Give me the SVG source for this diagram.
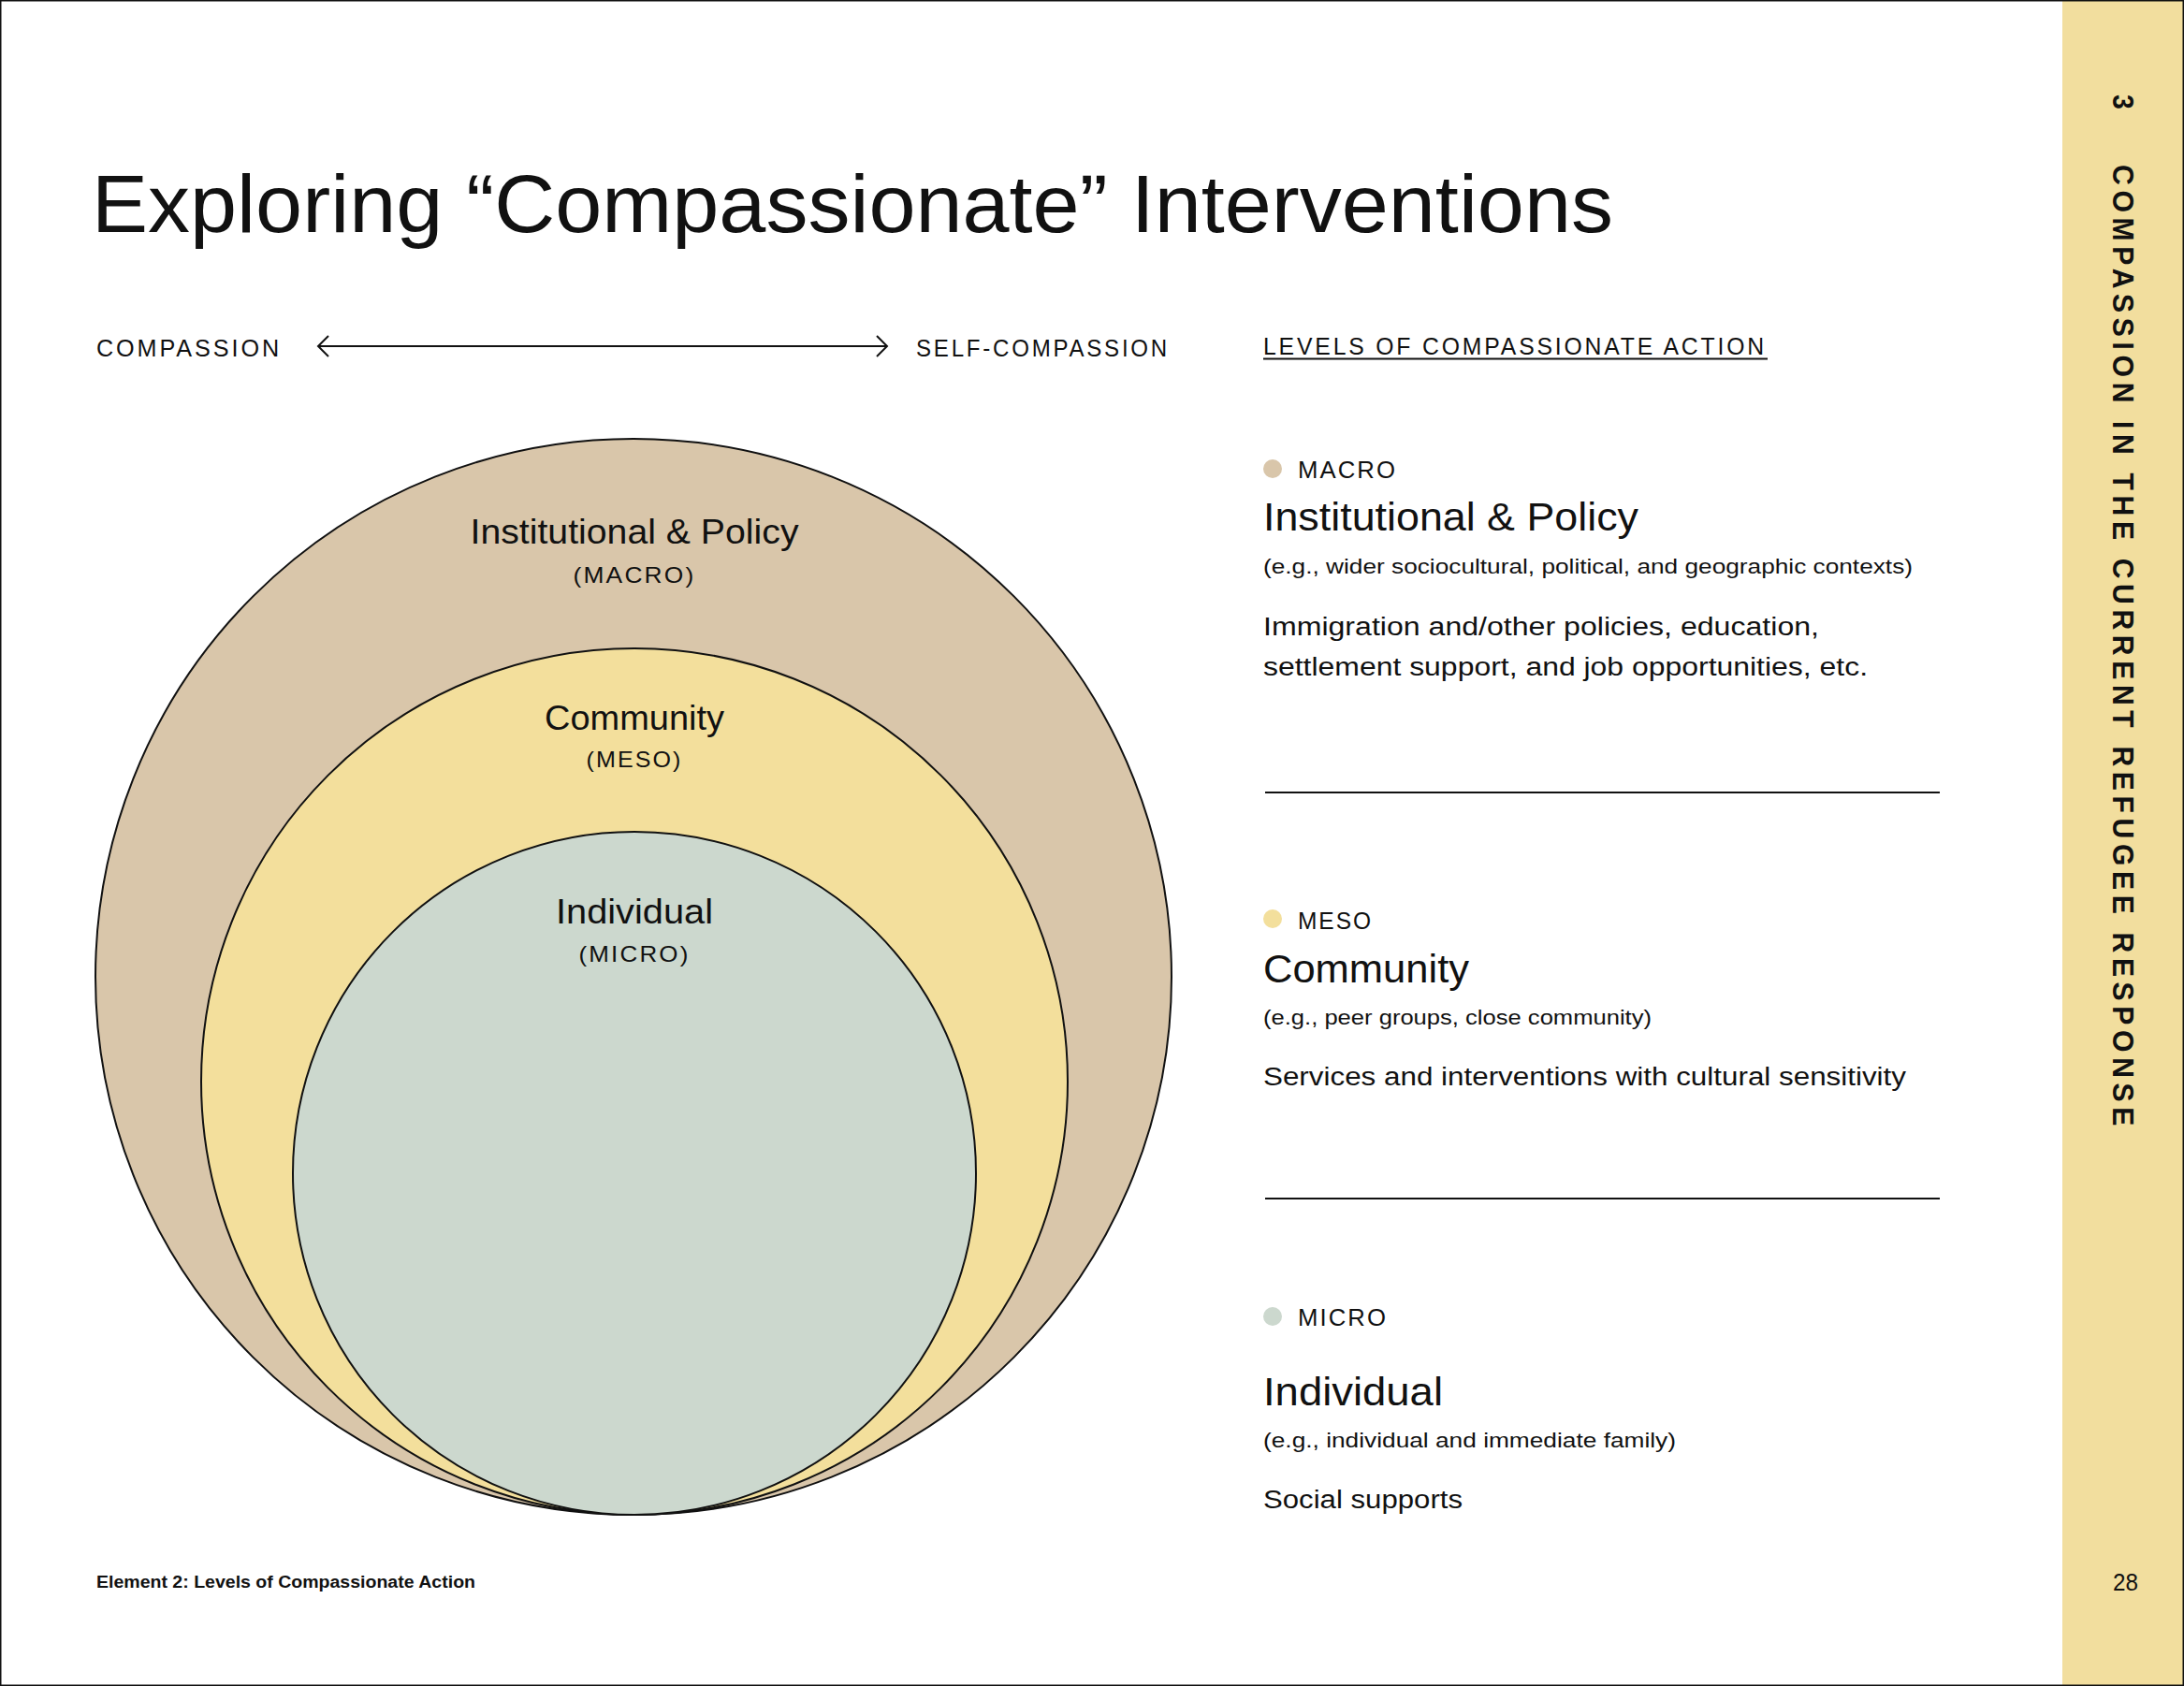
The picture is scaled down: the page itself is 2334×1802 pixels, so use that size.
<svg xmlns="http://www.w3.org/2000/svg" width="2334" height="1802" viewBox="0 0 2334 1802">
<style>
text{font-family:"Liberation Sans",Arial,sans-serif;fill:#111;}
.title{font-size:88px;}
.cap{font-size:26px;letter-spacing:3px;}
.lvl{font-size:25px;letter-spacing:2px;}
.head{font-size:42px;}
.eg{font-size:22px;}
.body{font-size:27px;}
.clabel{font-size:36px;text-anchor:middle;}
.csub{font-size:24px;letter-spacing:2px;text-anchor:middle;}
.ring{stroke:#111;stroke-width:2;}
.rule{stroke:#111;stroke-width:2;}
.side{font-size:32px;font-weight:bold;letter-spacing:6px;}
</style>
<rect x="0" y="0" width="2334" height="1802" fill="#ffffff"/>
<rect id="sidebar" x="2204" y="0" width="130" height="1802" fill="#F2DE9E"/>
<rect x="0.75" y="0.75" width="2332.5" height="1800.5" fill="none" stroke="#111" stroke-width="1.5"/>

<text class="title" x="98" y="248" textLength="1626" lengthAdjust="spacingAndGlyphs">Exploring “Compassionate” Interventions</text>

<g id="axis-labels">
<text class="cap" x="103" y="381" textLength="198" lengthAdjust="spacingAndGlyphs">COMPASSION</text>
<text class="cap" x="979" y="381" textLength="271" lengthAdjust="spacingAndGlyphs">SELF-COMPASSION</text>
</g>

<g id="connectors" fill="none" stroke="#111" stroke-width="2">
<line x1="341" y1="370" x2="948" y2="370"/>
<polyline points="351,359 340,370 351,381"/>
<polyline points="937,359 948,370 937,381"/>
</g>

<g id="circles">
<g id="macro-circle">
<circle class="ring" cx="677" cy="1044" r="575" fill="#D9C6AA"/>
<text class="clabel" x="678" y="581" textLength="351" lengthAdjust="spacingAndGlyphs">Institutional &amp; Policy</text>
<text class="csub" x="678" y="623" textLength="131" lengthAdjust="spacingAndGlyphs">(MACRO)</text>
</g>
<g id="meso-circle">
<circle class="ring" cx="678" cy="1156" r="463" fill="#F3DF9C"/>
<text class="clabel" x="678" y="780" textLength="192" lengthAdjust="spacingAndGlyphs">Community</text>
<text class="csub" x="678" y="820" textLength="103" lengthAdjust="spacingAndGlyphs">(MESO)</text>
</g>
<g id="micro-circle">
<circle class="ring" cx="678" cy="1254" r="365" fill="#CCD8CE"/>
<text class="clabel" x="678" y="987" textLength="168" lengthAdjust="spacingAndGlyphs">Individual</text>
<text class="csub" x="678" y="1028" textLength="119" lengthAdjust="spacingAndGlyphs">(MICRO)</text>
</g>
</g>

<g id="legend-title">
<text class="cap" x="1350" y="379" textLength="538" lengthAdjust="spacingAndGlyphs">LEVELS OF COMPASSIONATE ACTION</text>
<line class="rule" x1="1350" y1="383.5" x2="1889" y2="383.5"/>
</g>

<g id="legend-macro">
<circle cx="1360" cy="501" r="10" fill="#D9C6AA"/>
<text class="lvl" x="1387" y="511" textLength="106" lengthAdjust="spacingAndGlyphs">MACRO</text>
<text class="head" x="1350" y="567" textLength="401" lengthAdjust="spacingAndGlyphs">Institutional &amp; Policy</text>
<text class="eg" x="1350" y="613" textLength="694" lengthAdjust="spacingAndGlyphs">(e.g., wider sociocultural, political, and geographic contexts)</text>
<text class="body" x="1350" y="679" textLength="594" lengthAdjust="spacingAndGlyphs">Immigration and/other policies, education,</text>
<text class="body" x="1350" y="722" textLength="646" lengthAdjust="spacingAndGlyphs">settlement support, and job opportunities, etc.</text>
</g>
<line class="rule" x1="1352" y1="847" x2="2073" y2="847"/>

<g id="legend-meso">
<circle cx="1360" cy="982" r="10" fill="#F3DF9C"/>
<text class="lvl" x="1387" y="993" textLength="80" lengthAdjust="spacingAndGlyphs">MESO</text>
<text class="head" x="1350" y="1050" textLength="220" lengthAdjust="spacingAndGlyphs">Community</text>
<text class="eg" x="1350" y="1095" textLength="415" lengthAdjust="spacingAndGlyphs">(e.g., peer groups, close community)</text>
<text class="body" x="1350" y="1160" textLength="687" lengthAdjust="spacingAndGlyphs">Services and interventions with cultural sensitivity</text>
</g>
<line class="rule" x1="1352" y1="1281" x2="2073" y2="1281"/>

<g id="legend-micro">
<circle cx="1360" cy="1407" r="10" fill="#CCD8CE"/>
<text class="lvl" x="1387" y="1417" textLength="96" lengthAdjust="spacingAndGlyphs">MICRO</text>
<text class="head" x="1350" y="1502" textLength="192" lengthAdjust="spacingAndGlyphs">Individual</text>
<text class="eg" x="1350" y="1547" textLength="441" lengthAdjust="spacingAndGlyphs">(e.g., individual and immediate family)</text>
<text class="body" x="1350" y="1612" textLength="213" lengthAdjust="spacingAndGlyphs">Social supports</text>
</g>

<text x="103" y="1697" font-size="18" font-weight="bold" textLength="405" lengthAdjust="spacingAndGlyphs">Element 2: Levels of Compassionate Action</text>

<g id="sidebar-text">
<text class="side" transform="translate(2258,101) rotate(90)" textLength="21" lengthAdjust="spacingAndGlyphs">3</text>
<text class="side" transform="translate(2258,176) rotate(90)" textLength="1033" lengthAdjust="spacingAndGlyphs">COMPASSION IN THE CURRENT REFUGEE RESPONSE</text>
<text x="2258" y="1700" font-size="25" textLength="27" lengthAdjust="spacingAndGlyphs">28</text>
</g>
</svg>
